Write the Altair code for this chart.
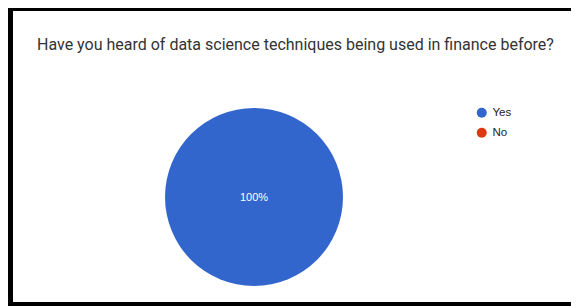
import altair as alt
import pandas as pd

categories = ["Yes", "No"]
values = [100, 0]
colors = ["#3366CC", "#DC3912"]
title_text = "Have you heard of data science techniques being used in finance before?"
center_label = "100%"

W, H = 563, 298

df = pd.DataFrame({"answer": categories, "count": values})

color_scale = alt.Scale(domain=categories, range=colors)

pie = alt.Chart(df).mark_arc(radius=89, stroke=None).encode(
    theta=alt.Theta("count:Q", stack=True),
    color=alt.Color(
        "answer:N",
        scale=color_scale,
        sort=categories,
        legend=alt.Legend(
            title=None,
            orient="none",
            legendX=468,
            legendY=99,
            symbolType="circle",
            symbolSize=100,
            symbolStrokeWidth=0,
            labelFont="Liberation Sans",
            labelFontSize=11.5,
            labelColor="#222222",
            rowPadding=7,
            labelOffset=5,
        ),
    ),
    order=alt.Order("answer:N", sort="descending"),
    x=alt.value(246),
    y=alt.value(189),
)

label_df = pd.DataFrame({"label": [center_label]})
label = alt.Chart(label_df).mark_text(
    font="Liberation Sans", fontSize=11, color="white", align="center", baseline="middle"
).encode(text="label:N", x=alt.value(246), y=alt.value(190))

title_df = pd.DataFrame({"t": [title_text]})
title = alt.Chart(title_df).mark_text(
    font="Roboto", fontSize=16, color="#333333", align="left", baseline="alphabetic"
).encode(text="t:N", x=alt.value(29), y=alt.value(41.5))

border_df = pd.DataFrame({"k": ["left", "top", "bottom"]})
left_bar = alt.Chart(border_df.iloc[[0]]).mark_rect(color="black").encode(
    x=alt.value(0), x2=alt.value(5), y=alt.value(0), y2=alt.value(H)
)
top_bar = alt.Chart(border_df.iloc[[1]]).mark_rect(color="black").encode(
    x=alt.value(0), x2=alt.value(W), y=alt.value(0), y2=alt.value(3)
)
bottom_bar = alt.Chart(border_df.iloc[[2]]).mark_rect(color="black").encode(
    x=alt.value(0), x2=alt.value(W), y=alt.value(H - 4), y2=alt.value(H)
)

chart = alt.layer(pie, label, title, left_bar, top_bar, bottom_bar).properties(
    width=W, height=H, padding=0, autosize=alt.AutoSizeParams(type="none"),
    background="white",
).configure_view(stroke=None)

chart.save("out.html", embed_options={"renderer": "svg", "actions": False})
